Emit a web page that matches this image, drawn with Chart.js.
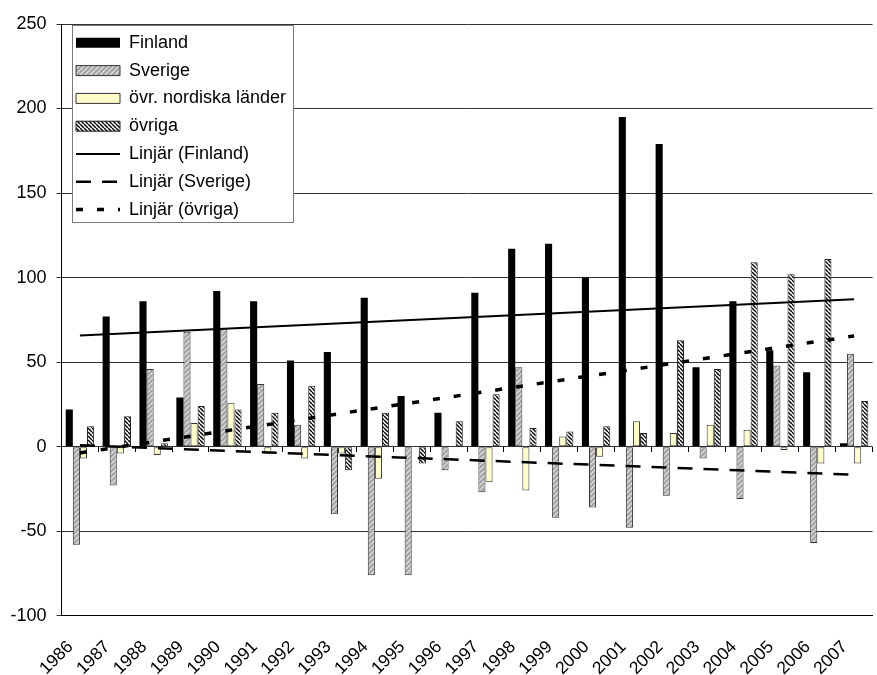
<!DOCTYPE html>
<html>
<head>
<meta charset="utf-8">
<script src="https://cdn.jsdelivr.net/npm/chart.js@4.4.0/dist/chart.umd.min.js"></script>
<style>
html, body { margin: 0; padding: 0; overflow: hidden; background: #fff; width: 877px; height: 675px; }
#wrap { position: absolute; left: 0; top: 0; width: 890px; height: 675px; }
canvas { display: block; }
</style>
</head>
<body>
<div id="wrap"><canvas id="c" width="890" height="675"></canvas></div>
<script>
// ---- data ----
const years = ['1986','1987','1988','1989','1990','1991','1992','1993','1994','1995','1996',
               '1997','1998','1999','2000','2001','2002','2003','2004','2005','2006','2007'];
const finland  = [22, 77, 86, 29, 92, 86, 51, 56, 88, 30, 20, 91, 117, 120, 100, 195, 179, 47, 86, 57, 44, 2];
const sverige  = [-58, -23, 46, 68, 70, 37, 13, -40, -76, -76, -14, -27, 47, -42, -36, -48, -29, -7, -31, 48, -57, 55];
const nordiska = [-7, -4, -5, 14, 26, -4, -7, -4, -19, 0, 0, -21, -26, 6, -6, 15, 8, 13, 10, -2, -10, -10];
const ovriga   = [12, 18, 2, 24, 22, 20, 36, -14, 20, -10, 15, 31, 11, 9, 12, 8, 63, 46, 109, 102, 111, 27];
// trend lines: end points
const trendYears   = ['1986', '2007'];
const trendFinland = [65.8, 87.2];
const trendSverige = [0.8, -16.6];
const trendOvriga  = [-3.7, 65.5];
const yTicks = { min: -100, max: 250, step: 50 };

const canvas = document.getElementById('c');
const mainCtx = canvas.getContext('2d');

function makePattern(size, bg, fg, lw, dir) {
  const c = document.createElement('canvas');
  c.width = c.height = size;
  const x = c.getContext('2d');
  x.fillStyle = bg; x.fillRect(0, 0, size, size);
  x.strokeStyle = fg; x.lineWidth = lw;
  x.beginPath();
  for (let k = -size; k <= size; k += size) {
    if (dir === '/') { x.moveTo(k, size); x.lineTo(k + size, 0); }
    else { x.moveTo(k, 0); x.lineTo(k + size, size); }
  }
  x.stroke();
  return mainCtx.createPattern(c, 'repeat');
}
const patSverige = makePattern(5, '#a3a3a3', '#e0e0e0', 1.3, '/');
const patOvriga  = makePattern(4, '#ffffff', '#000000', 1.4, '\\');

Chart.defaults.font.family = "'Liberation Sans', Arial, Helvetica, sans-serif";
Chart.defaults.font.size = 18;
Chart.defaults.color = '#000';

const LEGEND_DX = 4.7;
const legendBox = {
  id: 'legendBox',
  afterLayout(chart) {
    const lg = chart.legend, ca = chart.chartArea;
    if (!lg) return;
    lg.left = ca.left + LEGEND_DX; lg.right = ca.right;
    lg.top = ca.top; lg.bottom = ca.bottom;
    if (!lg._wrapped) {
      const orig = lg.draw;
      lg.draw = function (...args) {
        const hb = this.legendHitBoxes;
        if (hb && hb.length) {
          const ctx = this.ctx;
          const l = Math.round(hb[0].left - 4);
          const t = Math.round(this.top + 1);
          const r = Math.round(Math.max(...hb.map(h => h.left + h.width)) + 7);
          const last = hb[hb.length - 1];
          const b = Math.round(last.top + last.height + 3);
          ctx.save();
          ctx.fillStyle = '#fff';
          ctx.fillRect(l, t, r - l, b - t);
          ctx.strokeStyle = '#7a7a7a';
          ctx.lineWidth = 1;
          ctx.strokeRect(l + 0.5, t + 0.5, r - l, b - t);
          ctx.restore();
        }
        return orig.apply(this, args);
      };
      lg._wrapped = true;
    }
  }
};

const toPts = (vals) => trendYears.map((y, i) => ({ x: y, y: vals[i] }));

new Chart(canvas, {
  type: 'bar',
  data: {
    labels: years,
    datasets: [
      { label: 'Finland', data: finland, backgroundColor: '#000', borderWidth: 0, xAxisID: 'x', yAxisID: 'y' },
      { label: 'Sverige', data: sverige, backgroundColor: patSverige, borderColor: '#333', borderWidth: 1, borderSkipped: false, xAxisID: 'x', yAxisID: 'y' },
      { label: 'övr. nordiska länder', data: nordiska, backgroundColor: '#ffffcc', borderColor: '#333', borderWidth: 1, borderSkipped: false, xAxisID: 'x', yAxisID: 'y' },
      { label: 'övriga', data: ovriga, backgroundColor: patOvriga, borderColor: '#222', borderWidth: 1, borderSkipped: false, xAxisID: 'x', yAxisID: 'y' },
      { type: 'line', label: 'Linjär (Finland)', data: toPts(trendFinland), borderColor: '#000', borderWidth: 2, pointRadius: 0, fill: false, order: -1, xAxisID: 'x', yAxisID: 'y' },
      { type: 'line', label: 'Linjär (Sverige)', data: toPts(trendSverige), borderColor: '#000', borderWidth: 2.5, borderDash: [15, 11], pointRadius: 0, fill: false, order: -1, xAxisID: 'x', yAxisID: 'y' },
      { type: 'line', label: 'Linjär (övriga)', data: toPts(trendOvriga), borderColor: '#000', borderWidth: 3.5, borderDash: [7, 14], pointRadius: 0, fill: false, order: -1, xAxisID: 'x', yAxisID: 'y' }
    ]
  },
  options: {
    responsive: false,
    animation: false,
    events: [],
    layout: { padding: { top: 24, left: 0, right: 0, bottom: 0 } },
    datasets: { bar: { categoryPercentage: 0.77, barPercentage: 1.0 } },
    scales: {
      x: {
        type: 'category',
        offset: true,
        grid: { display: false, drawTicks: false, offset: true },
        border: { display: true, color: '#000', width: 1 },
        ticks: { autoSkip: false, minRotation: 45, maxRotation: 45, padding: 21, labelOffset: -9.5, font: { size: 17.5 }, color: '#000' },
        afterFit(s) { s.height = 59.3; }
      },
      x2: {
        type: 'category',
        display: true,
        position: { y: 0 },
        offset: true,
        grid: { display: true, offset: true, drawOnChartArea: false, drawTicks: true, tickLength: 5, color: '#000', z: -1 },
        ticks: { display: false },
        border: { display: false }
      },
      y: {
        min: yTicks.min, max: yTicks.max,
        ticks: { stepSize: yTicks.step, padding: 10, color: '#000', font: { size: 18 } },
        grid: { color: '#333', tickLength: 5, z: -1 },
        border: { display: true, color: '#000', width: 1 },
        afterFit(s) { s.width = 61.5; }
      }
    },
    plugins: {
      tooltip: { enabled: false },
      legend: {
        position: 'chartArea',
        align: 'start',
        labels: {
          usePointStyle: true,
          pointStyleWidth: 44,
          boxHeight: 10,
          padding: 9.8,
          color: '#000',
          font: { size: 18 },
          sort: (a, b) => a.datasetIndex - b.datasetIndex,
          generateLabels(chart) {
            const items = Chart.defaults.plugins.legend.labels.generateLabels(chart);
            items.forEach(it => {
              const ds = chart.data.datasets[it.datasetIndex];
              if (ds.type === 'line') {
                it.pointStyle = 'line';
                it.lineDash = ds.borderDash || [];
                it.lineWidth = ds.borderWidth;
                it.strokeStyle = ds.borderColor;
              } else {
                it.pointStyle = 'rect';
                it.fillStyle = ds.backgroundColor;
                it.strokeStyle = ds.borderColor || '#000';
                it.lineWidth = ds.borderWidth;
              }
            });
            return items;
          }
        }
      }
    }
  },
  plugins: [legendBox]
});
</script>
</body>
</html>
